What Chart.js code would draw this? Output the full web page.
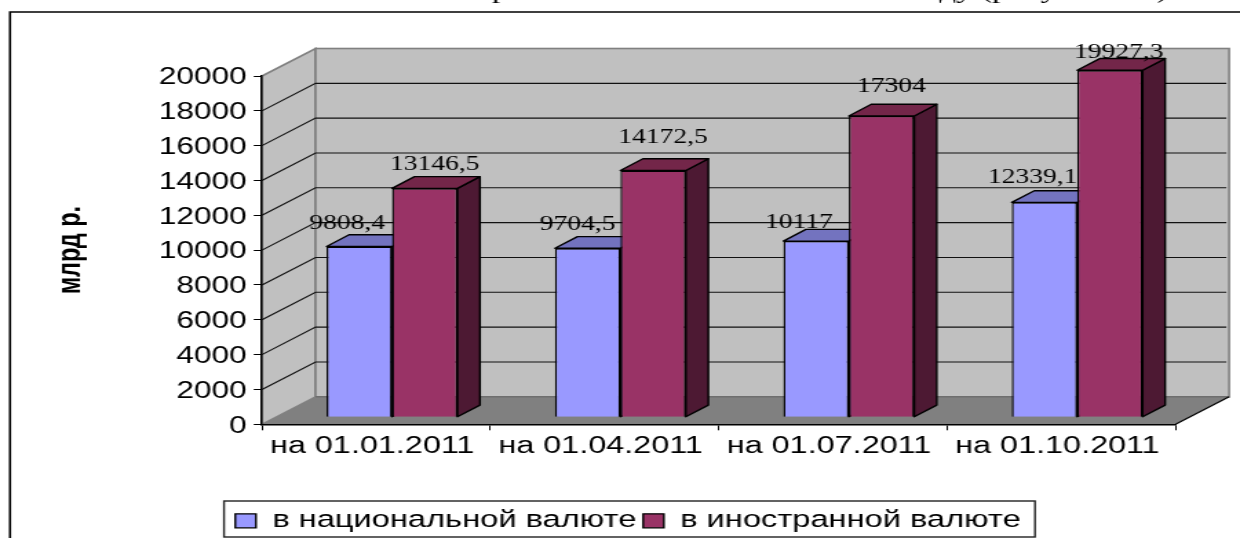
<!DOCTYPE html>
<html>
<head>
<meta charset="utf-8">
<script src="https://cdn.jsdelivr.net/npm/chart.js@4"></script>
<style>
    html, body { margin: 0; padding: 0; background: #fff; overflow: hidden; }
    /* the source picture is stretched sideways, so the whole canvas is too */
    #wrap { width: 900px; height: 538px; transform: scaleX(1.37778); transform-origin: 0 0; }
</style>
</head>
<body>
<div id="wrap"><canvas id="chart"></canvas></div>
<script>
const categories = ['на 01.01.2011', 'на 01.04.2011', 'на 01.07.2011', 'на 01.10.2011'];
const seriesNames = ['в национальной валюте', 'в иностранной валюте'];
const nationalValues = [9808.4, 9704.5, 10117, 12339.1];
const foreignValues = [13146.5, 14172.5, 17304, 19927.3];
const yTicks = [0, 2000, 4000, 6000, 8000, 10000, 12000, 14000, 16000, 18000, 20000];

const W = 900, H = 538;
const k = 1240 / W;
function px(x) { return x / k; }

// 3D look, all in reference pixels
const wall = { dx: px(53.5), dy: -27.5 };
const barPlane = { dx: px(15.8), dy: -7 };
const barDepth = { dx: px(22.5), dy: -11.7 };

const faceColors = [
    { top: '#7373BF', side: '#4D4D80' },
    { top: '#732649', side: '#4D1933' }
];

// where the value labels sit, relative to the front top edge of the bar
const labelShift = [
    [[-12, -23], [-10, -24], [-17, -18], [-12, -25]],
    [[10, -24], [10, -33], [10, -29], [9, -18]]
];

const leftPad = 33;

function formatValue(v) {
    return String(v).replace('.', ',');
}

const depthPlugin = {
    id: 'depth',
    afterLayout(chart) {
        // put the legend where the original has it
        const lg = chart.legend;
        const w = lg.right - lg.left;
        lg.left = px(628) - w / 2;
        lg.right = lg.left + w;
        lg.top = 504;
        lg.bottom = 541;
    },
    beforeDraw(chart) {
        const ctx = chart.ctx;
        const a = chart.chartArea;
        const y = chart.scales.y;
        ctx.save();

        // frame of the page and the cut off line of text above it
        ctx.strokeStyle = '#000';
        ctx.lineWidth = 1.6;
        ctx.beginPath();
        ctx.moveTo(px(10), H);
        ctx.lineTo(px(10), 12);
        ctx.lineTo(W, 12);
        ctx.stroke();
        ctx.fillStyle = '#000';
        ctx.font = '24px "Liberation Serif"';
        ctx.textBaseline = 'alphabetic';
        ctx.textAlign = 'right';
        ctx.fillText('ду (рисунок 1.1)', px(1168), -2);
        ctx.textAlign = 'center';
        ctx.fillText('р', px(500), -2);

        // side wall
        ctx.fillStyle = '#C0C0C0';
        ctx.strokeStyle = '#808080';
        ctx.lineWidth = 1.6;
        ctx.beginPath();
        ctx.moveTo(a.left, a.bottom);
        ctx.lineTo(a.left, a.top);
        ctx.lineTo(a.left + wall.dx, a.top + wall.dy);
        ctx.lineTo(a.left + wall.dx, a.bottom + wall.dy);
        ctx.closePath();
        ctx.fill();
        ctx.stroke();

        // back wall
        ctx.fillRect(a.left + wall.dx, a.top + wall.dy, a.width, a.height);
        ctx.strokeRect(a.left + wall.dx, a.top + wall.dy, a.width, a.height);

        // floor
        ctx.fillStyle = '#808080';
        ctx.beginPath();
        ctx.moveTo(a.left, a.bottom);
        ctx.lineTo(a.right, a.bottom);
        ctx.lineTo(a.right + wall.dx, a.bottom + wall.dy);
        ctx.lineTo(a.left + wall.dx, a.bottom + wall.dy);
        ctx.closePath();
        ctx.fill();
        ctx.strokeStyle = '#6E6E6E';
        ctx.beginPath();
        ctx.moveTo(a.left + wall.dx, a.bottom + wall.dy);
        ctx.lineTo(a.right + wall.dx, a.bottom + wall.dy);
        ctx.stroke();
        ctx.strokeStyle = '#000';
        ctx.lineWidth = 1.2;
        ctx.beginPath();
        ctx.moveTo(a.right, a.bottom);
        ctx.lineTo(a.right + wall.dx, a.bottom + wall.dy);
        ctx.stroke();

        // grid lines on both walls
        ctx.strokeStyle = '#111';
        ctx.lineWidth = 1.1;
        yTicks.forEach(function(v) {
            if (v === yTicks[0] || v === yTicks[yTicks.length - 1]) return;
            const p = y.getPixelForValue(v);
            ctx.beginPath();
            ctx.moveTo(a.left, p);
            ctx.lineTo(a.left + wall.dx, p + wall.dy);
            ctx.lineTo(a.right + wall.dx - 2, p + wall.dy);
            ctx.stroke();
        });

        // legend box
        ctx.fillStyle = '#fff';
        ctx.strokeStyle = '#222';
        ctx.lineWidth = 1.4;
        ctx.fillRect(px(224), 501, px(811), 36);
        ctx.strokeRect(px(224), 501, px(811), 36);
        ctx.restore();
    },
    beforeDatasetsDraw(chart) {
        // the library paints the last dataset first, here the right bar must cover the left one
        const ctx = chart.ctx;
        ctx.save();
        ctx.translate(barPlane.dx, barPlane.dy);
        chart.data.datasets.forEach(function(ds, i) {
            const meta = chart.getDatasetMeta(i);
            const faces = faceColors[i];
            meta.controller.draw();
            ctx.strokeStyle = '#000';
            ctx.lineWidth = 1.4;
            ctx.lineJoin = 'round';
            meta.data.forEach(function(bar) {
                const l = bar.x - bar.width / 2;
                const r = bar.x + bar.width / 2;
                // side face
                ctx.fillStyle = faces.side;
                ctx.beginPath();
                ctx.moveTo(r, bar.base);
                ctx.lineTo(r + barDepth.dx, bar.base + barDepth.dy);
                ctx.lineTo(r + barDepth.dx, bar.y + barDepth.dy);
                ctx.lineTo(r, bar.y);
                ctx.closePath();
                ctx.fill();
                ctx.stroke();
                // top face
                ctx.fillStyle = faces.top;
                ctx.beginPath();
                ctx.moveTo(l, bar.y);
                ctx.lineTo(l + barDepth.dx, bar.y + barDepth.dy);
                ctx.lineTo(r + barDepth.dx, bar.y + barDepth.dy);
                ctx.lineTo(r, bar.y);
                ctx.closePath();
                ctx.fill();
                ctx.stroke();
            });
        });

        // value labels
        ctx.fillStyle = '#000';
        ctx.font = '20px "Liberation Serif"';
        ctx.textAlign = 'center';
        ctx.textBaseline = 'middle';
        chart.data.datasets.forEach(function(ds, i) {
            chart.getDatasetMeta(i).data.forEach(function(bar, j) {
                const shift = labelShift[i][j];
                ctx.fillText(formatValue(ds.data[j]), bar.x + px(shift[0]), bar.y + shift[1]);
            });
        });
        ctx.restore();
        return false;
    }
};

new Chart(document.getElementById('chart').getContext('2d'), {
    type: 'bar',
    data: {
        labels: categories,
        datasets: [
            {
                label: seriesNames[0],
                data: nationalValues,
                backgroundColor: '#9999FF',
                borderColor: '#000',
                borderWidth: 1.4
            },
            {
                label: seriesNames[1],
                data: foreignValues,
                backgroundColor: '#993366',
                borderColor: '#000',
                borderWidth: 1.4
            }
        ]
    },
    options: {
        responsive: true,
        maintainAspectRatio: false,
        animation: false,
        devicePixelRatio: 1,
        categoryPercentage: 0.573,
        barPercentage: 1,
        layout: {
            padding: { left: leftPad, right: W - px(1175.6), top: 76, bottom: 0 }
        },
        scales: {
            x: {
                afterFit: function(s) { s.height = 75; },
                grid: { drawOnChartArea: false, drawTicks: true, tickLength: 6, color: '#000' },
                border: { display: true, color: '#000', width: 1.5 },
                ticks: {
                    color: '#000',
                    font: { family: 'Liberation Sans', size: 23.5 },
                    maxRotation: 0,
                    autoSkip: false,
                    padding: 2,
                    labelOffset: px(-4)
                }
            },
            y: {
                min: 0,
                max: 20000,
                afterFit: function(s) { s.width = px(262) - leftPad; },
                afterBuildTicks: function(s) { s.ticks = yTicks.map(function(v) { return { value: v }; }); },
                grid: { drawOnChartArea: false, drawTicks: true, tickLength: 6, color: '#000' },
                border: { display: true, color: '#000', width: 1.5 },
                title: {
                    display: true,
                    text: 'млрд р.',
                    color: '#000',
                    font: { family: 'Liberation Sans', size: 23.5, weight: 'bold' }
                },
                ticks: {
                    color: '#000',
                    font: { family: 'Liberation Sans', size: 23 },
                    padding: 5,
                    labelOffset: 2,
                    callback: function(v) { return String(v); }
                }
            }
        },
        plugins: {
            legend: {
                position: 'bottom',
                labels: {
                    color: '#000',
                    font: { family: 'Liberation Sans', size: 23.7 },
                    boxWidth: 15,
                    boxHeight: 14,
                    padding: 5
                }
            },
            tooltip: { enabled: false }
        }
    },
    plugins: [depthPlugin]
});
</script>
</body>
</html>
